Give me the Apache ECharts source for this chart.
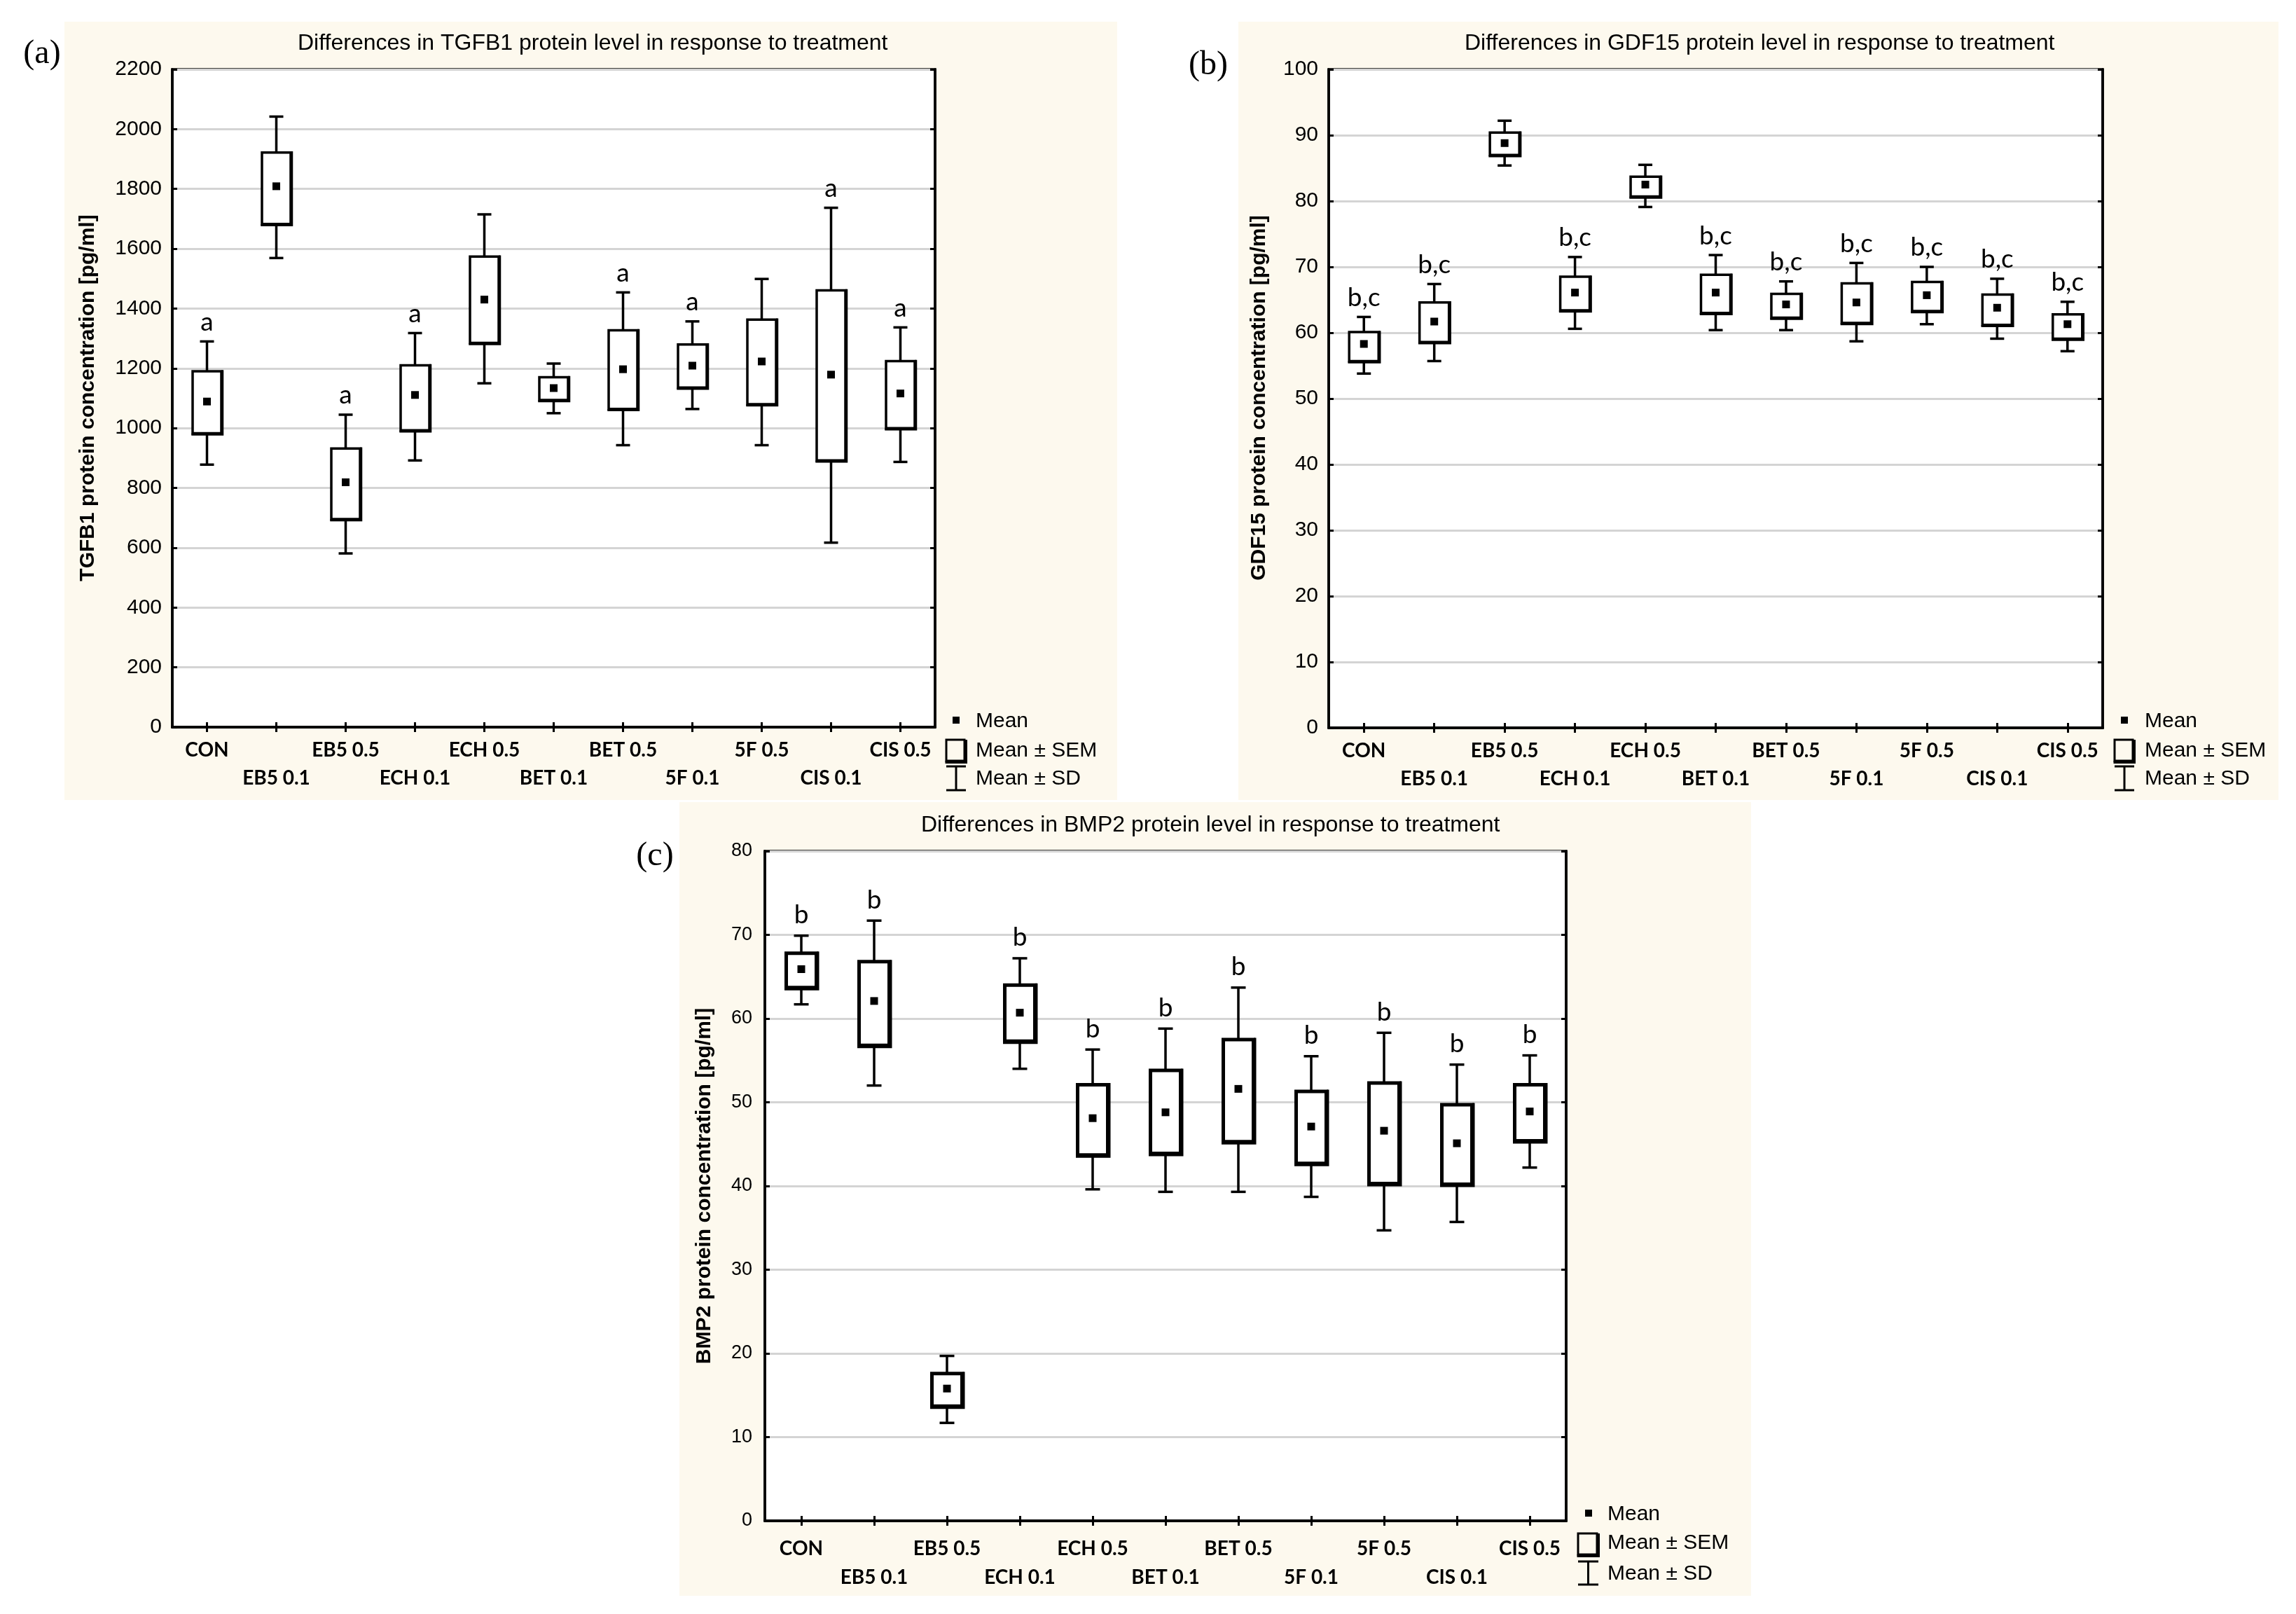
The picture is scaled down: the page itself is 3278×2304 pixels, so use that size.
<!DOCTYPE html>
<html><head><meta charset="utf-8">
<script src="https://cdn.jsdelivr.net/npm/echarts@6/dist/echarts.min.js"></script>
<style>html,body{margin:0;padding:0;background:#fff}#c{width:3278px;height:2304px}</style>
</head><body><div id="c"></div>
<script>
// ---------- DATA ----------
const categories = ['CON','EB5 0.1','EB5 0.5','ECH 0.1','ECH 0.5','BET 0.1','BET 0.5','5F 0.1','5F 0.5','CIS 0.1','CIS 0.5'];

const tgfb1Ticks = {min: 0, max: 2200, interval: 200};
const tgfb1Mean    = [1089,1809, 819,1111,1430,1134,1197,1209,1223,1179,1116];
const tgfb1SemLow  = [ 983,1683, 696, 993,1285,1094,1064,1136,1080, 892,1000];
const tgfb1SemHigh = [1190,1922, 932,1210,1574,1170,1327,1280,1363,1461,1224];
const tgfb1SdLow   = [ 878,1569, 581, 892,1150,1050, 943,1064, 943, 617, 887];
const tgfb1SdHigh  = [1290,2042,1045,1318,1715,1216,1454,1357,1499,1737,1337];
const tgfb1Letters = ['a','','a','a','','','a','a','','a','a'];

const gdf15Ticks = {min: 0, max: 100, interval: 10};
const gdf15Mean    = [58.3,61.7,88.8,66.1,82.5,66.1,64.3,64.6,65.7,63.8,61.3];
const gdf15SemLow  = [55.7,58.6,87.0,63.4,80.7,63.0,62.3,61.5,63.3,61.2,59.1];
const gdf15SemHigh = [60.1,64.6,90.4,68.5,83.7,68.8,65.9,67.5,67.7,65.8,62.8];
const gdf15SdLow   = [53.8,55.7,85.4,60.6,79.1,60.4,60.4,58.7,61.3,59.1,57.2];
const gdf15SdHigh  = [62.4,67.4,92.2,71.5,85.5,71.8,67.8,70.6,70.0,68.2,64.7];
const gdf15Letters = ['b,c','b,c','','b,c','','b,c','b,c','b,c','b,c','b,c','b,c'];

const bmp2Ticks = {min: 0, max: 80, interval: 10};
const bmp2Mean    = [65.9,62.1,15.8,60.7,48.1,48.8,51.6,47.1,46.6,45.1,48.9];
const bmp2SemLow  = [63.7,56.8,13.7,57.3,43.7,43.9,45.3,42.7,40.3,40.2,45.4];
const bmp2SemHigh = [67.8,66.8,17.6,64.0,52.1,53.8,57.5,51.3,52.3,49.7,52.1];
const bmp2SdLow   = [61.7,52.0,11.7,54.0,39.6,39.3,39.3,38.7,34.7,35.7,42.2];
const bmp2SdHigh  = [69.9,71.7,19.7,67.2,56.3,58.8,63.7,55.5,58.3,54.5,55.6];
const bmp2Letters = ['b','b','','b','b','b','b','b','b','b','b'];

const titles = ['Differences in TGFB1 protein level in response to treatment',
                'Differences in GDF15 protein level in response to treatment',
                'Differences in BMP2 protein level in response to treatment'];
const yNames = ['TGFB1 protein concentration [pg/ml]',
                'GDF15 protein concentration [pg/ml]',
                'BMP2 protein concentration [pg/ml]'];
const panelLabels = ['(a)','(b)','(c)'];
const legendTexts = ['Mean','Mean \u00b1 SEM','Mean \u00b1 SD'];

// ---------- LAYOUT ----------
const SANS = 'Liberation Sans, Arial, sans-serif';
const CAL = 'Lato, Carlito, sans-serif';
const panels = [
  {data:[tgfb1SdLow,tgfb1SemLow,tgfb1Mean,tgfb1SemHigh,tgfb1SdHigh], letters:tgfb1Letters, ticks:tgfb1Ticks,
   grid:{left:246, top:99, width:1089, height:939},
   cream:[92,31,1503,1111], label:[60,77], titleX:425, titleY:62, yName:[126,568],
   tickFont:30, tickMargin:15, xMargin:13, xLH:40,
   boxW:41, capW:20, boxLW:3.5, shadowLW:3, whiskLW:3.5, letterGap:9, letterFont:37,
   leg:{mx:1365, x0:1351, x1:1379, tx:1393, y:[1030,1072,1112], sem:[1056,1088], sd:[1094,1128]}},
  {data:[gdf15SdLow,gdf15SemLow,gdf15Mean,gdf15SemHigh,gdf15SdHigh], letters:gdf15Letters, ticks:gdf15Ticks,
   grid:{left:1897, top:99, width:1105, height:940},
   cream:[1768,31,1485,1111], label:[1725,93], titleX:2091, titleY:62, yName:[1798,568],
   tickFont:30, tickMargin:15, xMargin:13, xLH:40,
   boxW:42, capW:20, boxLW:3.5, shadowLW:3, whiskLW:3.5, letterGap:9, letterFont:37,
   leg:{mx:3033, x0:3019, x1:3047, tx:3062, y:[1030,1072,1112], sem:[1056,1088], sd:[1094,1128]}},
  {data:[bmp2SdLow,bmp2SemLow,bmp2Mean,bmp2SemHigh,bmp2SdHigh], letters:bmp2Letters, ticks:bmp2Ticks,
   grid:{left:1092, top:1215, width:1144, height:956},
   cream:[970,1145,1530,1133], label:[935,1222], titleX:1315, titleY:1178, yName:[1006,1693],
   tickFont:27, tickMargin:18, xMargin:19.5, xLH:41,
   boxW:43, capW:21, boxLW:5, shadowLW:3, whiskLW:3.5, letterGap:11, letterFont:37,
   leg:{mx:2268, x0:2253, x1:2282, tx:2295, y:[2162,2203,2247], sem:[2189,2221], sd:[2229,2262]}}
];

function renderFactory(p) {
  return function (params, api) {
    const i = api.value(0);
    const x = api.coord([i, 0])[0];
    const ySdLo = api.coord([i, api.value(1)])[1];
    const ySemLo = api.coord([i, api.value(2)])[1];
    const yMean = api.coord([i, api.value(3)])[1];
    const ySemHi = api.coord([i, api.value(4)])[1];
    const ySdHi = api.coord([i, api.value(5)])[1];
    const bw = p.boxW, cw = p.capW, o = p.boxLW / 2 + 1;
    const ch = [
      {type:'line', shape:{x1:x, y1:ySdHi, x2:x, y2:ySdLo}, style:{stroke:'#000', lineWidth:p.whiskLW}},
      {type:'line', shape:{x1:x-cw/2, y1:ySdHi, x2:x+cw/2, y2:ySdHi}, style:{stroke:'#000', lineWidth:p.whiskLW}},
      {type:'line', shape:{x1:x-cw/2, y1:ySdLo, x2:x+cw/2, y2:ySdLo}, style:{stroke:'#000', lineWidth:p.whiskLW}},
      {type:'rect', shape:{x:x-bw/2, y:ySemHi, width:bw, height:ySemLo-ySemHi}, style:{fill:'#fff', stroke:'#000', lineWidth:p.boxLW}},
      {type:'polyline', shape:{points:[[x+bw/2+o-1, ySemHi-p.boxLW/2], [x+bw/2+o-1, ySemLo+o-1], [x-bw/2-p.boxLW/2, ySemLo+o-1]]},
       style:{stroke:'#000', fill:null, lineWidth:p.shadowLW}},
      {type:'rect', shape:{x:x-5.5, y:yMean-5.5, width:11, height:11}, style:{fill:'#000'}}
    ];
    const t = p.letters[params.dataIndex];
    if (t) ch.push({type:'text', style:{text:t, x:x, y:ySdHi - p.letterGap, align:'center', verticalAlign:'bottom',
      fontSize:p.letterFont, fontFamily:CAL, fill:'#000'}});
    return {type:'group', children:ch};
  };
}

const option = {backgroundColor:'#fff', animation:false, grid:[], xAxis:[], yAxis:[], series:[], graphic:[]};
panels.forEach((p, k) => {
  option.grid.push(Object.assign({show:true, backgroundColor:'#fff', borderColor:'#000', borderWidth:3.5,
    containLabel:false, outerBoundsMode:'none'}, p.grid));
  const tickStyle = {show:true, inside:true, length:7, lineStyle:{color:'#000', width:3}};
  option.xAxis.push({gridIndex:k, type:'category', data:categories, position:'bottom', boundaryGap:true,
    axisLine:{show:true, lineStyle:{color:'#000', width:3.5}},
    axisTick:Object.assign({alignWithLabel:true, interval:0}, tickStyle),
    axisLabel:{interval:0, hideOverlap:false, margin:p.xMargin, color:'#000', fontSize:28, fontWeight:'bold', fontFamily:CAL,
      lineHeight:p.xLH, verticalAlign:'top', formatter:(v, idx) => (idx % 2 ? '\n' + v : v)},
    splitLine:{show:false}});
  option.xAxis.push({gridIndex:k, type:'category', data:categories, position:'top', boundaryGap:true,
    axisLine:{show:true, lineStyle:{color:'#000', width:3.5}},
    axisTick:Object.assign({alignWithLabel:true, interval:0}, tickStyle),
    axisLabel:{show:false}, splitLine:{show:false}});
  option.yAxis.push({gridIndex:k, type:'value', position:'left', min:p.ticks.min, max:p.ticks.max, interval:p.ticks.interval,
    axisLine:{show:true, lineStyle:{color:'#000', width:3.5}}, axisTick:tickStyle,
    axisLabel:{margin:p.tickMargin, color:'#000', fontSize:p.tickFont, fontFamily:SANS, formatter:v => String(v)},
    splitLine:{show:true, lineStyle:{color:'#d4d4d4', width:3}}});
  option.yAxis.push({gridIndex:k, type:'value', position:'right', min:p.ticks.min, max:p.ticks.max, interval:p.ticks.interval,
    axisLine:{show:true, lineStyle:{color:'#000', width:3.5}}, axisTick:tickStyle,
    axisLabel:{show:false}, splitLine:{show:false}});
  const rows = categories.map((c, i) => [i, p.data[0][i], p.data[1][i], p.data[2][i], p.data[3][i], p.data[4][i]]);
  option.series.push({type:'custom', xAxisIndex:2*k, yAxisIndex:2*k, data:rows, clip:false, z:5,
    encode:{x:0, y:[1,2,3,4,5]}, renderItem:renderFactory(p)});

  // decorations
  option.graphic.push({type:'rect', z:-10, silent:true, shape:{x:p.cream[0], y:p.cream[1], width:p.cream[2], height:p.cream[3]},
    style:{fill:'#fdf9ee'}});
  option.graphic.push({type:'text', z:10, x:p.label[0], y:p.label[1], style:{text:panelLabels[k], align:'center',
    verticalAlign:'middle', fontSize:48, fontFamily:'Liberation Serif, Times New Roman, serif', fill:'#000'}});
  option.graphic.push({type:'text', z:10, x:p.titleX, y:p.titleY, style:{text:titles[k], align:'left',
    verticalAlign:'middle', fontSize:32, fontFamily:SANS, fill:'#000'}});
  option.graphic.push({type:'text', z:10, x:p.yName[0], y:p.yName[1], rotation:Math.PI/2, style:{text:yNames[k], align:'center',
    verticalAlign:'middle', fontSize:30, fontWeight:'bold', fontFamily:SANS, fill:'#000'}});
  const L = p.leg, cx = (L.x0 + L.x1) / 2;
  option.graphic.push({type:'rect', z:10, shape:{x:L.mx-5, y:L.y[0]-7, width:10, height:10}, style:{fill:'#000'}});
  option.graphic.push({type:'rect', z:10, shape:{x:L.x0, y:L.sem[0], width:L.x1-L.x0-2, height:L.sem[1]-L.sem[0]-2},
    style:{fill:'none', stroke:'#000', lineWidth:3}});
  option.graphic.push({type:'polyline', z:10, shape:{points:[[L.x1, L.sem[0]], [L.x1, L.sem[1]], [L.x0-1.5, L.sem[1]]]},
    style:{fill:null, stroke:'#000', lineWidth:4}});
  option.graphic.push({type:'line', z:10, shape:{x1:cx, y1:L.sd[0], x2:cx, y2:L.sd[1]}, style:{stroke:'#000', lineWidth:3}});
  option.graphic.push({type:'line', z:10, shape:{x1:L.x0, y1:L.sd[0], x2:L.x1, y2:L.sd[0]}, style:{stroke:'#000', lineWidth:3}});
  option.graphic.push({type:'line', z:10, shape:{x1:L.x0, y1:L.sd[1], x2:L.x1, y2:L.sd[1]}, style:{stroke:'#000', lineWidth:3}});
  legendTexts.forEach((t, j) => option.graphic.push({type:'text', z:10, x:L.tx, y:L.y[j], style:{text:t, align:'left',
    verticalAlign:'middle', fontSize:30, fontFamily:SANS, fill:'#000'}}));
});

const chart = echarts.init(document.getElementById('c'), null, {renderer:'canvas', width:3278, height:2304});
chart.setOption(option);
</script></body></html>
